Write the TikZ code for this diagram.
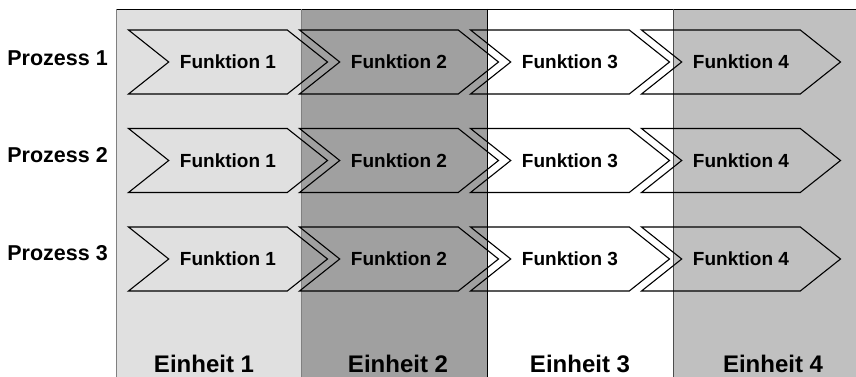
\documentclass[tikz,border=0pt]{standalone}
\usepackage{fontspec}
\setmainfont{Liberation Sans}
\usetikzlibrary{positioning, shapes.symbols}

\definecolor{einheitA}{RGB}{224,224,224}
\definecolor{einheitB}{RGB}{160,160,160}
\definecolor{einheitD}{RGB}{192,192,192}

\tikzset{
	funktion/.style={signal, signal from=west, signal to=east, signal pointer angle=77,
		draw, line width=1.1pt, minimum width=199pt, minimum height=64pt, inner sep=0pt,
		font=\fontsize{19}{21}\selectfont\bfseries},
	prozess/.style={anchor=east, inner sep=0pt, font=\fontsize{21.5}{23}\selectfont\bfseries},
	einheit/.style={inner sep=0pt, font=\fontsize{24}{26}\selectfont\bfseries},
	trenner/.style={line width=0.8pt}
}

\begin{document}
\begin{tikzpicture}[x=1pt,y=1pt,on grid,node distance=171pt]

		\useasboundingbox (0,0) rectangle (856,-377);
		
		% Spalten der Einheiten
		\fill [einheitA] (116,-9) rectangle (301,-377);
		\fill [einheitB] (301,-9) rectangle (487,-377);
		\fill [white]    (487,-9) rectangle (673,-377);
		\fill [einheitD] (673,-9) rectangle (856,-377);
		
		\draw [trenner, black] (116,-9) -- (856,-9);
		\draw [trenner, gray]  (116,-9) -- (116,-377);
		\draw [trenner, gray]  (301,-9) -- (301,-377);
		\draw [trenner, black] (487,-9) -- (487,-377);
		\draw [trenner, black!70] (673,-9) -- (673,-377);
		
		% Prozess 1
		\node (f11) 
			[funktion] at (228,-62) {Funktion 1};
			\node (f12) 
				[funktion, right = of f11] {Funktion 2};
			\node (f13) 
				[funktion, right = of f12] {Funktion 3};
			\node (f14) 
				[funktion, right = of f13] {Funktion 4};
		
		% Prozess 2
		\node (f21) 
			[funktion, below = 98.5pt of f11] {Funktion 1};
			\node (f22) 
				[funktion, right = of f21] {Funktion 2};
			\node (f23) 
				[funktion, right = of f22] {Funktion 3};
			\node (f24) 
				[funktion, right = of f23] {Funktion 4};
		
		% Prozess 3
		\node (f31) 
			[funktion, below = 98.5pt of f21] {Funktion 1};
			\node (f32) 
				[funktion, right = of f31] {Funktion 2};
			\node (f33) 
				[funktion, right = of f32] {Funktion 3};
			\node (f34) 
				[funktion, right = of f33] {Funktion 4};
		
		\node (p1) [prozess] at (108,-58.5) {Prozess 1};
		\node (p2) [prozess] at (108,-155) {Prozess 2};
		\node (p3) [prozess] at (108,-253.5) {Prozess 3};
		
		\node (e1) [einheit] at (204,-363.5) {Einheit 1};
		\node (e2) [einheit] at (398,-363.5) {Einheit 2};
		\node (e3) [einheit] at (580,-363.5) {Einheit 3};
		\node (e4) [einheit] at (773,-363.5) {Einheit 4};
		
	\end{tikzpicture}
\end{document}
